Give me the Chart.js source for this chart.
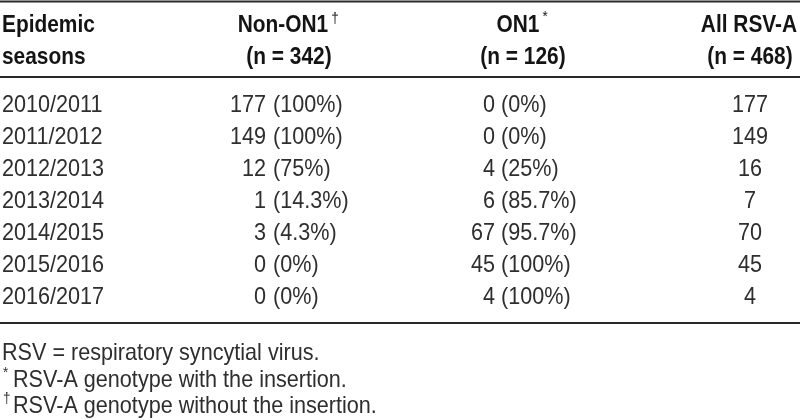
<!DOCTYPE html>
<html>
<head>
<meta charset="utf-8">
<script src="https://cdn.jsdelivr.net/npm/chart.js@4.4.1/dist/chart.umd.min.js"></script>
<style>
  html, body { margin: 0; padding: 0; background: #ffffff; }
  #wrap { width: 800px; height: 420px; }
</style>
</head>
<body>
<div id="wrap"><canvas id="c" width="800" height="420"></canvas></div>
<script>
// ---- Data ----
const seasons = ['2010/2011', '2011/2012', '2012/2013', '2013/2014', '2014/2015', '2015/2016', '2016/2017'];
const nonOn1 = [177, 149, 12, 1, 3, 0, 0];
const nonOn1Pct = ['100%', '100%', '75%', '14.3%', '4.3%', '0%', '0%'];
const on1 = [0, 0, 4, 6, 67, 45, 4];
const on1Pct = ['0%', '0%', '25%', '85.7%', '95.7%', '100%', '100%'];
const allRsvA = [177, 149, 16, 7, 70, 45, 4];
const headerTop = ['Epidemic', 'Non-ON1', 'ON1', 'All RSV-A'];
const headerBottom = ['seasons', '(n = 342)', '(n = 126)', '(n = 468)'];
const headerMarks = ['', '\u2020', '*', ''];
const footnotes = [
  { mark: '', text: 'RSV = respiratory syncytial virus.' },
  { mark: '*', text: 'RSV-A genotype with the insertion.' },
  { mark: '\u2020', text: 'RSV-A genotype without the insertion.' }
];

// ---- Layout (x-scale units) ----
const COL = { season: 2, nonSplit: 270, on1Split: 498, all: 750, hdrNon: 283, hdrOn1: 518 };
const FAM = '"Liberation Sans", Arial, sans-serif';
const REG = '24px ' + FAM;
const BOLD = 'bold 24px ' + FAM;
const SUP = '15px ' + FAM;
const SX_REG = 0.9;
const SX_BOLD = 0.87;
const TXT = '#2e2e2e';
const HDR = '#141414';

function put(ctx, str, x, y, align, font, color, sx) {
  ctx.save();
  ctx.font = font;
  ctx.fillStyle = color;
  ctx.textBaseline = 'alphabetic';
  const w = ctx.measureText(str).width * sx;
  let x0 = x;
  if (align === 'right') x0 = x - w;
  else if (align === 'center') x0 = x - w / 2;
  ctx.translate(x0, y);
  ctx.scale(sx, 1);
  ctx.fillText(str, 0, 0);
  ctx.restore();
  return { left: x0, right: x0 + w };
}

function rule(ctx, y, x1, x2) {
  ctx.save();
  ctx.strokeStyle = '#2a2a2a';
  ctx.lineWidth = 2;
  ctx.beginPath();
  ctx.moveTo(x1, y);
  ctx.lineTo(x2, y);
  ctx.stroke();
  ctx.restore();
}

const tablePlugin = {
  id: 'tablePlugin',
  afterDraw(chart) {
    const ctx = chart.ctx;
    const xs = chart.scales.x, ys = chart.scales.y;
    const area = chart.chartArea;
    const X = v => xs.getPixelForValue(v);
    const left = 0, right = chart.width;

    // rules
    rule(ctx, 1.5, left, right);
    rule(ctx, area.top - 10, left, right);
    rule(ctx, area.bottom + 11, left, right);

    // header
    const h1 = area.top - 55, h2 = area.top - 23;
    put(ctx, headerTop[0], X(COL.season), h1, 'left', BOLD, HDR, SX_BOLD);
    put(ctx, headerBottom[0], X(COL.season), h2, 'left', BOLD, HDR, SX_BOLD);
    let r = put(ctx, headerTop[1], X(COL.hdrNon), h1, 'center', BOLD, HDR, SX_BOLD);
    put(ctx, headerMarks[1], r.right + 3, h1 - 9, 'left', SUP, HDR, SX_REG);
    put(ctx, headerBottom[1], X(COL.hdrNon + 6), h2, 'center', BOLD, HDR, SX_BOLD);
    r = put(ctx, headerTop[2], X(COL.hdrOn1), h1, 'center', BOLD, HDR, SX_BOLD);
    put(ctx, headerMarks[2], r.right + 3, h1 - 11, 'left', SUP, HDR, SX_REG);
    put(ctx, headerBottom[2], X(COL.hdrOn1 + 5), h2, 'center', BOLD, HDR, SX_BOLD);
    put(ctx, headerTop[3], X(COL.all - 1), h1, 'center', BOLD, HDR, SX_BOLD);
    put(ctx, headerBottom[3], X(COL.all), h2, 'center', BOLD, HDR, SX_BOLD);

    // body
    seasons.forEach((s, i) => {
      const y = ys.getPixelForValue(i) + 8.5;
      put(ctx, s, X(COL.season), y, 'left', REG, TXT, SX_REG);
      put(ctx, String(nonOn1[i]), X(COL.nonSplit) - 4, y, 'right', REG, TXT, SX_REG);
      put(ctx, '(' + nonOn1Pct[i] + ')', X(COL.nonSplit) + 3, y, 'left', REG, TXT, SX_REG);
      put(ctx, String(on1[i]), X(COL.on1Split) - 3, y, 'right', REG, TXT, SX_REG);
      put(ctx, '(' + on1Pct[i] + ')', X(COL.on1Split) + 3, y, 'left', REG, TXT, SX_REG);
      put(ctx, String(allRsvA[i]), X(COL.all), y, 'center', REG, TXT, SX_REG);
    });

    // footnotes
    footnotes.forEach((f, k) => {
      const y = area.bottom + 48 + k * 26.5;
      if (f.mark) {
        put(ctx, f.mark, X(COL.season) + 1, y - 10, 'left', SUP, TXT, SX_REG);
        put(ctx, f.text, X(COL.season) + 11, y, 'left', REG, TXT, SX_REG);
      } else {
        put(ctx, f.text, X(COL.season), y, 'left', REG, TXT, SX_REG);
      }
    });
  }
};

new Chart(document.getElementById('c'), {
  type: 'bar',
  data: {
    labels: seasons,
    datasets: [{ label: 'All RSV-A', data: allRsvA, backgroundColor: 'rgba(0,0,0,0)', borderWidth: 0 }]
  },
  options: {
    indexAxis: 'y',
    responsive: false,
    animation: false,
    devicePixelRatio: 1,
    layout: { padding: { top: 87, bottom: 108, left: 0, right: 0 } },
    plugins: { legend: { display: false }, tooltip: { enabled: false }, title: { display: false } },
    scales: {
      x: { display: false, min: 0, max: 800 },
      y: { display: false, offset: true }
    }
  },
  plugins: [tablePlugin]
});
</script>
</body>
</html>
